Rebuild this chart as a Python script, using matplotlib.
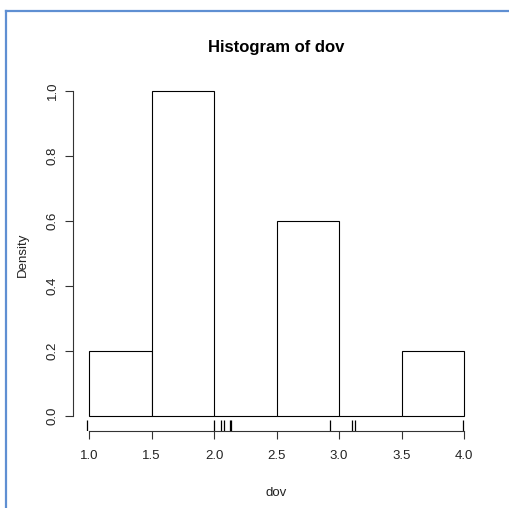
import numpy as np
import matplotlib
matplotlib.use("Agg")
import matplotlib.pyplot as plt
from matplotlib.lines import Line2D

# histogram of dov, density scale
breaks = [1.0, 1.5, 2.0, 2.5, 3.0, 3.5, 4.0]
density = [0.2, 1.0, 0.0, 0.6, 0.0, 0.2]
rug_x = [0.98, 2.003, 2.053, 2.08, 2.13, 2.135, 2.93, 3.10, 3.13, 3.99]
x_ticks = [1.0, 1.5, 2.0, 2.5, 3.0, 3.5, 4.0]
y_ticks = [0.0, 0.2, 0.4, 0.6, 0.8, 1.0]

plt.rcParams['font.family'] = ['Liberation Sans', 'DejaVu Sans']

W, H = 509, 508
fig = plt.figure(figsize=(W / 100, H / 100), dpi=100)
ax = fig.add_axes([74 / W, 1 - 431 / H, 405 / W, 353 / H])

left = np.array(breaks[:-1])
widths = np.diff(breaks)
ax.bar(left, density, width=widths, align='edge', facecolor='white',
       edgecolor='black', linewidth=0.8)

# rug along the bottom
ax.vlines(rug_x, 0, 0.031, transform=ax.get_xaxis_transform(),
          color='black', linewidth=0.9)

ax.set_xlim(0.88, 4.12)
ax.set_ylim(-15 / 325, 1 + 13 / 325)

for s in ['top', 'right']:
    ax.spines[s].set_visible(False)
ax.spines['bottom'].set_bounds(1.0, 4.0)
ax.spines['left'].set_bounds(0.0, 1.0)
ax.spines['left'].set_position(('outward', 1))
for s in ['bottom', 'left']:
    ax.spines[s].set_linewidth(0.8)
    ax.spines[s].set_color('#333333')

ax.set_xticks(x_ticks)
ax.set_xticklabels(['%.1f' % v for v in x_ticks])
ax.set_yticks(y_ticks)
ax.set_yticklabels(['%.1f' % v for v in y_ticks], rotation=90, va='center')
ax.tick_params(length=6, width=0.8, color='#333333', labelsize=9.5,
               labelcolor='#222222', pad=8)
ax.tick_params(axis='y', pad=4)

ax.set_xlabel('dov', fontsize=9.5, labelpad=18, color='#222222')
ax.set_ylabel('Density', fontsize=9.5, labelpad=13, color='#222222')
ax.set_title('Histogram of dov', fontsize=12, fontweight='bold', pad=19)

# window frame
fig.add_artist(Line2D([6 / W, 6 / W], [0, 1 - 11 / H], transform=fig.transFigure,
                      color='#5f8fd2', linewidth=1.6))
fig.add_artist(Line2D([6 / W, 1], [1 - 11 / H, 1 - 11 / H], transform=fig.transFigure,
                      color='#5f8fd2', linewidth=1.6))

fig.savefig('out.png', dpi=100)
